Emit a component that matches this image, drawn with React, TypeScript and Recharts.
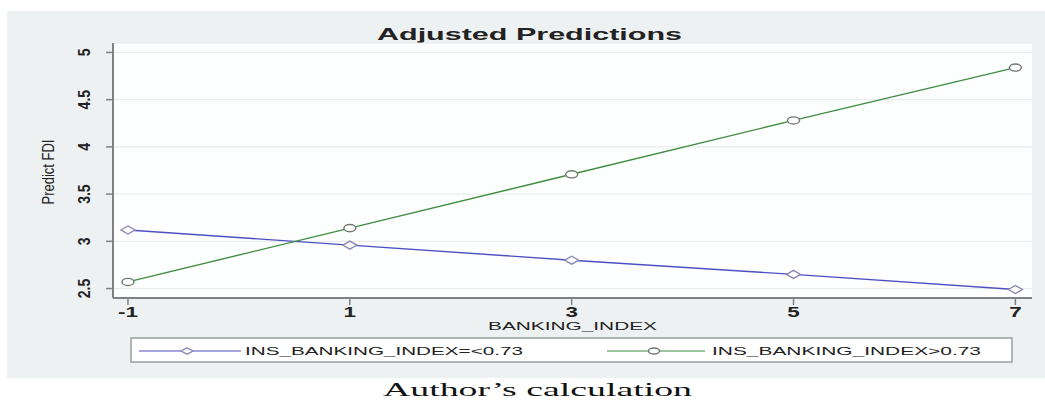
import React from "react";
import { LineChart, Line, XAxis, YAxis, CartesianGrid, Label } from "recharts";

const bankingIndex = [-1, 1, 3, 5, 7];
const lowSeries = [3.12, 2.96, 2.8, 2.65, 2.49];
const highSeries = [2.57, 3.14, 3.71, 4.28, 4.84];
const yTicks = [2.5, 3, 3.5, 4, 4.5, 5];
const yTickLabels = ["2.5", "3", "3.5", "4", "4.5", "5"];
const lowName = "INS_BANKING_INDEX=<0.73";
const highName = "INS_BANKING_INDEX>0.73";

const data = bankingIndex.map((x, i) => ({ x, low: lowSeries[i], high: highSeries[i] }));

const FONT = "'Liberation Sans', Arial, sans-serif";
const BLUE = "#4f4fc4";
const GREEN = "#3f8d3f";
const AXIS = "#7d8282";

const diamond = (cx: number, cy: number, key?: any, w = 7, h = 4) => (
  <path key={key} d={`M${cx - w} ${cy} L${cx} ${cy - h} L${cx + w} ${cy} L${cx} ${cy + h} Z`}
    fill="#fff" stroke="#8a8ab4" strokeWidth={1.4} />
);
const circle = (cx: number, cy: number, key?: any, rx = 6, ry = 3.6) => (
  <ellipse key={key} cx={cx} cy={cy} rx={rx} ry={ry} fill="#fff" stroke="#6f786f" strokeWidth={1.4} />
);

const XTick = (props: any) => {
  const { x, y, payload } = props;
  return (
    <g transform={`translate(${x},${y}) scale(1.6,1)`}>
      <text x={0} y={0} dy="0.71em" textAnchor="middle" fontFamily={FONT} fontSize={14} fontWeight="bold" fill="#222">
        {payload.value}
      </text>
    </g>
  );
};

const YTick = (props: any) => {
  const { x, y, payload } = props;
  const i = yTicks.indexOf(payload.value);
  return (
    <g transform={`translate(${x - 14},${y}) scale(1.2,1) rotate(-90)`}>
      <text x={0} y={0} textAnchor="middle" fontFamily={FONT} fontSize={14} fontWeight="bold" fill="#222">
        {i >= 0 ? yTickLabels[i] : payload.value}
      </text>
    </g>
  );
};

export default function App() {
  return (
    <div style={{ position: "absolute", left: 0, top: 0, width: 1045, height: 401, background: "#fff", overflow: "hidden" }}>
      <div style={{ position: "absolute", left: 7, top: 11, width: 1038, height: 367, background: "#eef1f1" }} />
      <svg width={1045} height={401} style={{ position: "absolute", left: 0, top: 0 }}>
        <text x={377} y={40} textLength={305} lengthAdjust="spacingAndGlyphs" fontFamily={FONT} fontSize={17} fontWeight="bold" fill="#222">
          Adjusted Predictions
        </text>
        {/* legend */}
        <rect x={131} y={338} width={881} height={24} fill="#fff" stroke="#9a9e9e" strokeWidth={1.5} />
        <line x1={139} y1={351} x2={241} y2={351} stroke={BLUE} strokeWidth={1.2} />
        {diamond(187, 351, undefined, 6, 3.2)}
        <text x={245} y={355} textLength={278} lengthAdjust="spacingAndGlyphs" fontFamily={FONT} fontSize={11} fill="#222">
          {lowName}
        </text>
        <line x1={607} y1={351} x2={705} y2={351} stroke={GREEN} strokeWidth={1.2} />
        {circle(654, 351, undefined, 5.5, 3)}
        <text x={712} y={355} textLength={269} lengthAdjust="spacingAndGlyphs" fontFamily={FONT} fontSize={11} fill="#222">
          {highName}
        </text>
        <text x={383} y={396} textLength={309} lengthAdjust="spacingAndGlyphs" fontFamily="'Liberation Serif', 'Times New Roman', serif" fontSize={19} fill="#111">
          Author’s calculation
        </text>
      </svg>
      <div style={{ position: "absolute", left: 0, top: 0 }}>
        <LineChart width={1045} height={401} data={data} margin={{ top: 43, right: 13, left: 0, bottom: 63 }}>
          <CartesianGrid vertical={false} stroke="#e4eaea" fill="#fdfefe" />
          <XAxis
            dataKey="x"
            type="number"
            domain={[-1.135, 7.15]}
            ticks={bankingIndex}
            height={40}
            tickSize={7}
            tickMargin={2}
            tick={<XTick />}
            stroke={AXIS}
            strokeWidth={2}
            tickLine={{ stroke: AXIS, strokeWidth: 1.5 }}
          >
            <Label
              content={() => (
                <text x={488} y={330} textLength={169} lengthAdjust="spacingAndGlyphs" fontFamily={FONT} fontSize={11} fill="#222">
                  BANKING_INDEX
                </text>
              )}
            />
          </XAxis>
          <YAxis
            type="number"
            domain={[2.4, 5.1]}
            ticks={yTicks}
            width={113}
            tickSize={7}
            tickMargin={2}
            tick={<YTick />}
            stroke={AXIS}
            strokeWidth={2}
            tickLine={{ stroke: AXIS, strokeWidth: 1.5 }}
          >
            <Label
              content={() => (
                <g transform="translate(54,172) scale(1.25,1) rotate(-90)">
                  <text x={0} y={0} textAnchor="middle" fontFamily={FONT} fontSize={13} fill="#222">
                    Predict FDI
                  </text>
                </g>
              )}
            />
          </YAxis>
          <Line
            dataKey="low"
            name={lowName}
            stroke={BLUE}
            strokeWidth={1.4}
            isAnimationActive={false}
            dot={(p: any) => diamond(p.cx, p.cy, `d${p.index}`)}
          />
          <Line
            dataKey="high"
            name={highName}
            stroke={GREEN}
            strokeWidth={1.4}
            isAnimationActive={false}
            dot={(p: any) => circle(p.cx, p.cy, `c${p.index}`)}
          />
        </LineChart>
      </div>
    </div>
  );
}
